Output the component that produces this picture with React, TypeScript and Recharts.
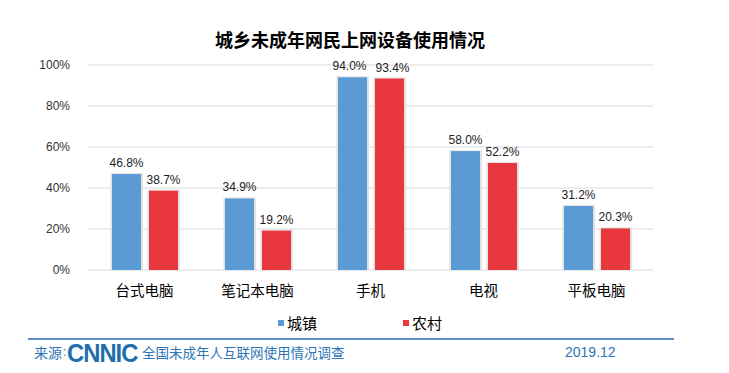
import React from 'react';
import { BarChart, Bar, XAxis, YAxis, CartesianGrid, LabelList } from 'recharts';

const categories = ['台式电脑', '笔记本电脑', '手机', '电视', '平板电脑'];
const urbanValues = [46.8, 34.9, 94.0, 58.0, 31.2];
const ruralValues = [38.7, 19.2, 93.4, 52.2, 20.3];
const yTicks = [0, 20, 40, 60, 80, 100];
const seriesNames = ['城镇', '农村'];
const seriesColors = ['#5B9BD5', '#E8383D'];
const title = '城乡未成年网民上网设备使用情况';
const sourceLabel = '来源';
const sourceColon = ':';
const sourceText = '全国未成年人互联网使用情况调查';
const dateText = '2019.12';

const data = categories.map((name, i) => ({ name, urban: urbanValues[i], rural: ruralValues[i] }));

const FONT = '"Liberation Sans", Arial, "Noto Sans CJK SC", sans-serif';
const CJK = '"Noto Sans CJK SC", "Liberation Sans", sans-serif';

const ShadowBar = (props: any) => {
  const { x, y, width, height, fill } = props;
  if (!height || height <= 0) return null;
  return (
    <g>
      <rect x={x - 1.5} y={y - 1} width={width + 3.5} height={height + 1} fill="#e2e2e2" />
      <rect x={x} y={y} width={width} height={height} fill={fill} />
    </g>
  );
};

const fmt = (v: any) => `${Number(v).toFixed(1)}%`;

// Label that nudges itself sideways when the two bars in a group are nearly equal (labels would touch)
const makeLabel = (side: number) => (props: any) => {
  const { x, y, width, value, index } = props;
  const close = Math.abs(urbanValues[index] - ruralValues[index]) < 3;
  const dx = close ? side * 3 : 0;
  return (
    <text x={x + width / 2 + dx} y={y - 7} textAnchor="middle" fontSize={12} fill="#222" fontFamily={FONT}>
      {fmt(value)}
    </text>
  );
};

export default function App() {
  return (
    <div style={{ position: 'absolute', left: 0, top: 0, width: 729, height: 373, background: '#fff', fontFamily: FONT }}>
      <BarChart
        width={729}
        height={373}
        data={data}
        margin={{ top: 65, right: 76, bottom: 73, left: 28 }}
        barSize={29}
        barGap={8}
      >
        <CartesianGrid vertical={false} stroke="#d9d9d9" />
        <XAxis
          xAxisId="grid"
          type="number"
          domain={[0, 5]}
          ticks={[0, 1, 2, 3, 4, 5]}
          allowDataOverflow
          tick={false}
          tickSize={5}
          height={0}
          axisLine={{ stroke: '#a6a6a6' }}
          tickLine={{ stroke: '#a6a6a6' }}
        />
        <XAxis
          xAxisId="cat"
          dataKey="name"
          height={30}
          axisLine={false}
          tickLine={false}
          tick={{ fontSize: 14.5, fill: '#000', fontFamily: CJK }}
          tickMargin={10}
        />
        <YAxis
          width={60}
          domain={[0, 100]}
          ticks={yTicks}
          axisLine={false}
          tickLine={false}
          tickFormatter={(v: number) => `${v}%`}
          tick={{ fontSize: 12, fill: '#333', fontFamily: FONT }}
          tickMargin={12}
        />
        <Bar xAxisId="cat" dataKey="urban" name={seriesNames[0]} fill={seriesColors[0]} shape={<ShadowBar />} isAnimationActive={false}>
          <LabelList dataKey="urban" content={makeLabel(-1)} />
        </Bar>
        <Bar xAxisId="cat" dataKey="rural" name={seriesNames[1]} fill={seriesColors[1]} shape={<ShadowBar />} isAnimationActive={false}>
          <LabelList dataKey="rural" content={makeLabel(1)} />
        </Bar>
      </BarChart>

      <div style={{ position: 'absolute', left: 0, width: 700, top: 27, textAlign: 'center', fontSize: 18, fontWeight: 'bold', fontFamily: CJK, color: '#000', lineHeight: '24px' }}>
        {title}
      </div>

      {seriesNames.map((n, i) => (
        <div key={n} style={{ position: 'absolute', left: 278 + i * 125, top: 313, display: 'flex', alignItems: 'center', fontFamily: CJK, fontSize: 15, color: '#000', lineHeight: '20px' }}>
          <span style={{ display: 'inline-block', width: 6, height: 6, background: seriesColors[i], marginRight: 3 }} />
          <span>{n}</span>
        </div>
      ))}

      <div style={{ position: 'absolute', left: 28, top: 338, width: 646, height: 2, background: '#5B8FCB' }} />
      <div style={{ position: 'absolute', left: 34, top: 342, fontFamily: CJK, fontSize: 14, color: '#2E75B6', lineHeight: '20px' }}>{sourceLabel}</div>
      <div style={{ position: 'absolute', left: 63, top: 342, fontFamily: FONT, fontSize: 13, color: '#2E75B6', lineHeight: '20px' }}>{sourceColon}</div>
      <div style={{ position: 'absolute', left: 67, top: 340, fontFamily: '"Liberation Sans", Arial, sans-serif', fontSize: 25, fontWeight: 'bold', color: '#1F6FAE', lineHeight: '26px', letterSpacing: -1, transform: 'scaleX(0.95)', transformOrigin: 'left' }}>CNNIC</div>
      <div style={{ position: 'absolute', left: 142, top: 342, fontFamily: CJK, fontSize: 13.5, color: '#2E75B6', lineHeight: '20px' }}>{sourceText}</div>
      <div style={{ position: 'absolute', left: 565, top: 342, fontFamily: FONT, fontSize: 14, color: '#2E75B6', lineHeight: '20px' }}>{dateText}</div>
    </div>
  );
}
